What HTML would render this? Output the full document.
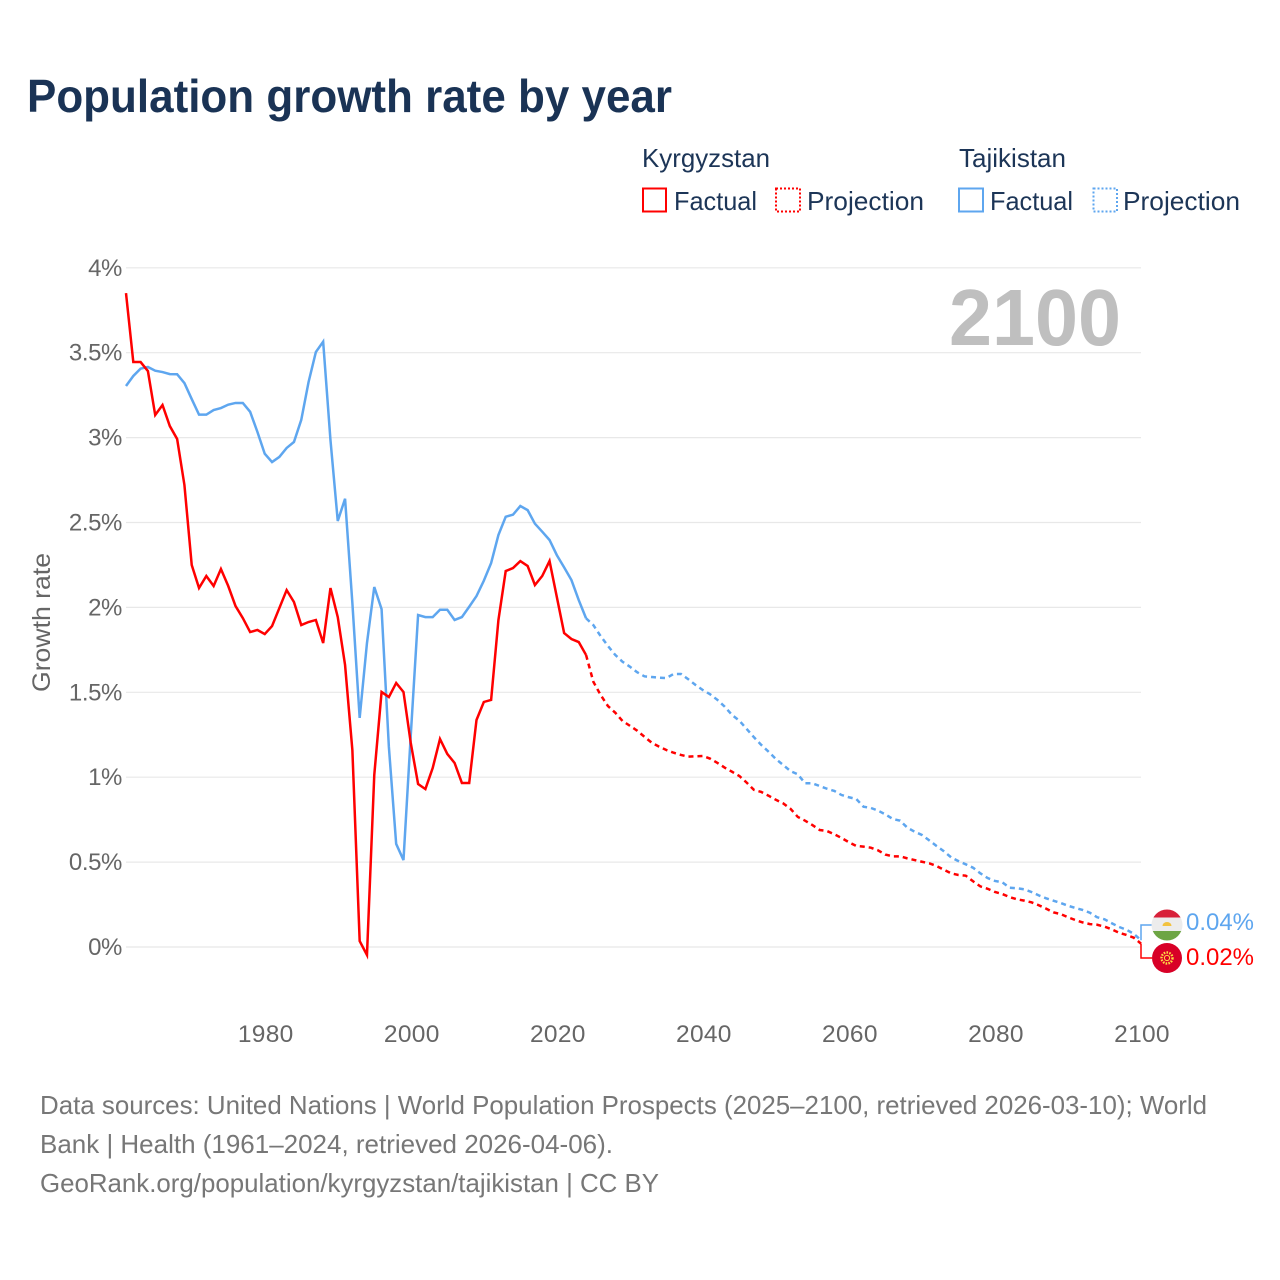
<!DOCTYPE html>
<html lang="en">
<head>
<meta charset="utf-8">
<title>Population growth rate by year</title>
<style>
html,body{margin:0;padding:0;background:#fff;width:1280px;height:1280px;overflow:hidden}
svg{display:block}
text{font-family:"Liberation Sans",sans-serif}
</style>
</head>
<body>
<svg id="chart" xmlns="http://www.w3.org/2000/svg" width="1280" height="1280" viewBox="0 0 1280 1280">
  <text x="27" y="112" font-size="46" font-weight="700" fill="#1a3355" textLength="645" lengthAdjust="spacingAndGlyphs">Population growth rate by year</text>

  <g font-size="26" fill="#1c3557">
    <text x="642" y="167" textLength="128" lengthAdjust="spacingAndGlyphs">Kyrgyzstan</text>
    <rect x="643" y="188.5" width="23" height="23" fill="none" stroke="#ff0000" stroke-width="2"/>
    <text x="674" y="210" textLength="83" lengthAdjust="spacingAndGlyphs">Factual</text>
    <rect x="776" y="188.5" width="24" height="23" fill="none" stroke="#ff0000" stroke-width="2" stroke-dasharray="2 2"/>
    <text x="807" y="210" textLength="117" lengthAdjust="spacingAndGlyphs">Projection</text>
    <text x="959" y="167" textLength="107" lengthAdjust="spacingAndGlyphs">Tajikistan</text>
    <rect x="959" y="188.5" width="24" height="23" fill="none" stroke="#5ea6ef" stroke-width="2"/>
    <text x="990" y="210" textLength="83" lengthAdjust="spacingAndGlyphs">Factual</text>
    <rect x="1093.5" y="188.5" width="23.5" height="23" fill="none" stroke="#5ea6ef" stroke-width="2" stroke-dasharray="2 2"/>
    <text x="1123" y="210" textLength="117" lengthAdjust="spacingAndGlyphs">Projection</text>
  </g>

  <g id="grid"></g>
  <g id="yticks" font-size="24" fill="#666666" text-anchor="end" letter-spacing="-0.4"></g>
  <g id="xticks" font-size="24.5" fill="#666666" text-anchor="middle" letter-spacing="0.3"></g>

  <text transform="translate(50 692) rotate(-90)" font-size="25" fill="#666666" textLength="139" lengthAdjust="spacingAndGlyphs">Growth rate</text>

  <text x="949" y="345" font-size="80" font-weight="700" fill="#bfbfbf" textLength="172" lengthAdjust="spacingAndGlyphs">2100</text>

  <g id="series" fill="none" stroke-width="2.5" stroke-linejoin="miter"></g>

  <g id="endmarks"></g>

  <g>
    <clipPath id="tj-clip"><circle cx="1167" cy="925" r="15.5"/></clipPath>
    <g clip-path="url(#tj-clip)">
      <rect x="1150" y="909" width="34" height="8.5" fill="#d8213a"/>
      <rect x="1150" y="917.5" width="34" height="13.5" fill="#ececec"/>
      <rect x="1150" y="931" width="34" height="10" fill="#6da544"/>
      <path d="M1162.5 926a4.5 4 0 0 1 9 0z" fill="#f2c23e"/>
    </g>
  </g>
  <g>
    <circle cx="1167" cy="958" r="15" fill="#d80027"/>
    <circle cx="1167" cy="958" r="5.5" fill="none" stroke="#ffda44" stroke-width="2.4" stroke-dasharray="1.6 1.2"/>
    <circle cx="1167" cy="958" r="2.6" fill="none" stroke="#ffda44" stroke-width="1"/>
  </g>

  <g font-size="26" fill="#777777">
    <text x="40" y="1114" textLength="1167" lengthAdjust="spacingAndGlyphs">Data sources: United Nations | World Population Prospects (2025–2100, retrieved 2026-03-10); World</text>
    <text x="40" y="1153" textLength="573" lengthAdjust="spacingAndGlyphs">Bank | Health (1961–2024, retrieved 2026-04-06).</text>
    <text x="40" y="1192" textLength="619" lengthAdjust="spacingAndGlyphs">GeoRank.org/population/kyrgyzstan/tajikistan | CC BY</text>
  </g>
</svg>

<script>
// Chart data
const firstYear = 1961;
const xTickYears = [1980, 2000, 2020, 2040, 2060, 2080, 2100];
const yTickValues = [0, 0.5, 1, 1.5, 2, 2.5, 3, 3.5, 4];
const yTickLabels = ['0%', '0.5%', '1%', '1.5%', '2%', '2.5%', '3%', '3.5%', '4%'];

// Factual: 1961-2024
const kyrgyzstanFactual = [3.851,3.445,3.445,3.392,3.133,3.192,3.068,2.992,2.721,2.250,2.114,2.185,2.126,2.226,2.126,2.008,1.937,1.855,1.867,1.843,1.890,1.996,2.102,2.032,1.896,1.914,1.926,1.790,2.114,1.943,1.661,1.160,0.035,-0.047,1.013,1.502,1.472,1.555,1.502,1.201,0.960,0.930,1.054,1.225,1.137,1.084,0.966,0.966,1.337,1.443,1.455,1.925,2.214,2.232,2.273,2.244,2.132,2.185,2.273,2.061,1.849,1.814,1.796,1.720];
const tajikistanFactual = [3.304,3.363,3.406,3.416,3.394,3.386,3.374,3.373,3.321,3.227,3.135,3.135,3.162,3.174,3.194,3.204,3.204,3.152,3.033,2.905,2.856,2.886,2.939,2.974,3.104,3.327,3.504,3.565,2.986,2.509,2.640,2.026,1.349,1.790,2.120,1.990,1.178,0.607,0.512,1.248,1.955,1.943,1.943,1.986,1.986,1.926,1.943,2.004,2.067,2.157,2.261,2.426,2.534,2.546,2.597,2.573,2.493,2.446,2.397,2.308,2.236,2.161,2.043,1.936];

// Projection: 2025-2100
const kyrgyzstanProjection = [1.562,1.484,1.419,1.380,1.331,1.303,1.274,1.238,1.203,1.180,1.160,1.144,1.131,1.121,1.123,1.125,1.109,1.084,1.056,1.032,1.007,0.968,0.925,0.913,0.891,0.867,0.846,0.814,0.766,0.744,0.718,0.689,0.683,0.664,0.642,0.617,0.595,0.591,0.585,0.569,0.544,0.534,0.534,0.522,0.512,0.502,0.493,0.477,0.455,0.434,0.424,0.420,0.387,0.357,0.343,0.324,0.312,0.294,0.281,0.273,0.263,0.246,0.226,0.204,0.194,0.175,0.159,0.145,0.135,0.131,0.120,0.104,0.084,0.071,0.055,0.02];
const tajikistanProjection = [1.896,1.831,1.773,1.720,1.680,1.651,1.618,1.594,1.590,1.586,1.584,1.608,1.608,1.577,1.543,1.513,1.488,1.455,1.415,1.366,1.333,1.284,1.235,1.190,1.150,1.107,1.072,1.036,1.017,0.964,0.964,0.948,0.932,0.919,0.895,0.882,0.872,0.826,0.819,0.803,0.781,0.754,0.744,0.703,0.679,0.660,0.628,0.595,0.564,0.528,0.506,0.487,0.467,0.434,0.406,0.389,0.381,0.349,0.346,0.340,0.324,0.304,0.287,0.273,0.259,0.243,0.230,0.218,0.202,0.175,0.163,0.140,0.118,0.102,0.078,0.04];

const RED = '#ff0000';
const BLUE = '#5ea6ef';
const NS = 'http://www.w3.org/2000/svg';

function xScale(year) { return 126 + (year - 1961) * (1141 - 126) / 139; }
function yScale(value) { return 947 - value * 169.8; }

function makeEl(tag, parent) {
  const el = document.createElementNS(NS, tag);
  parent.appendChild(el);
  return el;
}

const gridGroup = document.getElementById('grid');
const yGroup = document.getElementById('yticks');
const xGroup = document.getElementById('xticks');
const seriesGroup = document.getElementById('series');
const endGroup = document.getElementById('endmarks');

yTickValues.forEach(function (v, i) {
  const line = makeEl('line', gridGroup);
  
  
  line.setAttribute('x1', 126);
  line.setAttribute('x2', 1141);
  line.setAttribute('y1', yScale(v));
  line.setAttribute('y2', yScale(v));
  line.setAttribute('stroke', '#e8e8e8');
  line.setAttribute('stroke-width', 1.2);

  const label = makeEl('text', yGroup);
  
  
  label.setAttribute('x', 122);
  label.setAttribute('y', yScale(v) + 8);
  label.textContent = yTickLabels[i];
});

xTickYears.forEach(function (year) {
  const label = makeEl('text', xGroup);
  
  
  label.setAttribute('x', xScale(year) + 1);
  label.setAttribute('y', 1042);
  label.textContent = year;
});

function linePoints(values, startYear) {
  return values.map(function (v, i) {
    return xScale(startYear + i).toFixed(2) + ',' + yScale(v).toFixed(2);
  }).join(' ');
}

function drawLine(values, startYear, color, dashed) {
  const line = makeEl('polyline', seriesGroup);
  line.setAttribute('points', linePoints(values, startYear));
  line.setAttribute('stroke', color);
  if (dashed) line.setAttribute('stroke-dasharray', '5 4');
  return line;
}

const projectionStart = firstYear + kyrgyzstanFactual.length - 1;

const tjProjLine = drawLine(tajikistanFactual.slice(-1).concat(tajikistanProjection), projectionStart, BLUE, true);



const tjFactLine = drawLine(tajikistanFactual, firstYear, BLUE, false);



const kgProjLine = drawLine(kyrgyzstanFactual.slice(-1).concat(kyrgyzstanProjection), projectionStart, RED, true);



const kgFactLine = drawLine(kyrgyzstanFactual, firstYear, RED, false);



const endX = xScale(2100);
const tjEnd = tajikistanProjection[tajikistanProjection.length - 1];
const kgEnd = kyrgyzstanProjection[kyrgyzstanProjection.length - 1];

const tjLeader = makeEl('polyline', endGroup);


tjLeader.setAttribute('points', endX + ',' + yScale(tjEnd) + ' ' + endX + ',925 1152,925');
tjLeader.setAttribute('fill', 'none');
tjLeader.setAttribute('stroke', BLUE);
tjLeader.setAttribute('stroke-width', 1.5);

const kgLeader = makeEl('polyline', endGroup);


kgLeader.setAttribute('points', endX + ',' + yScale(kgEnd) + ' ' + endX + ',958 1152,958');
kgLeader.setAttribute('fill', 'none');
kgLeader.setAttribute('stroke', RED);
kgLeader.setAttribute('stroke-width', 1.5);

const tjValue = makeEl('text', endGroup);


tjValue.setAttribute('x', 1186);
tjValue.setAttribute('y', 930);
tjValue.setAttribute('font-size', 24);
tjValue.setAttribute('fill', BLUE);
tjValue.setAttribute('textLength', 68);
tjValue.setAttribute('lengthAdjust', 'spacingAndGlyphs');
tjValue.textContent = tjEnd.toFixed(2) + '%';

const kgValue = makeEl('text', endGroup);


kgValue.setAttribute('x', 1186);
kgValue.setAttribute('y', 965);
kgValue.setAttribute('font-size', 24);
kgValue.setAttribute('fill', RED);
kgValue.setAttribute('textLength', 68);
kgValue.setAttribute('lengthAdjust', 'spacingAndGlyphs');
kgValue.textContent = kgEnd.toFixed(2) + '%';
</script>
</body>
</html>
